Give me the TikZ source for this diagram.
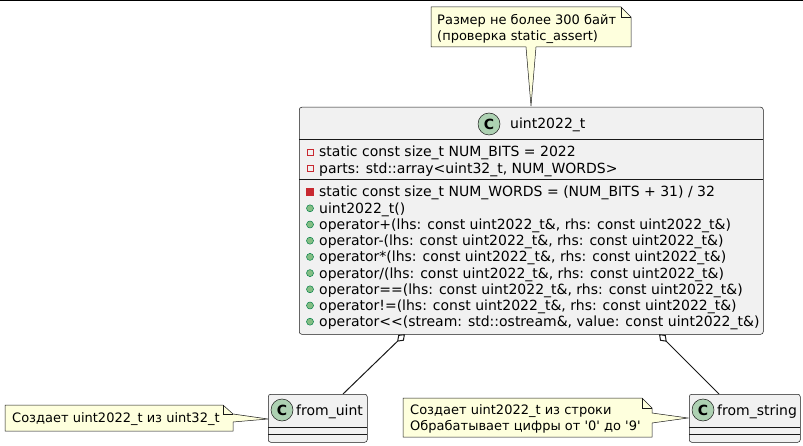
\documentclass[tikz,border=0pt]{standalone}
\usepackage{fontspec}
\setmainfont{DejaVu Sans}[Ligatures=TeXOff]
\usetikzlibrary{arrows.meta}
\definecolor{bord}{HTML}{181818}
\definecolor{clsfill}{HTML}{F1F1F1}
\definecolor{notefill}{HTML}{FEFFDD}
\definecolor{spotC}{HTML}{ADD1B2}
\definecolor{privc}{HTML}{C82930}
\definecolor{pubfill}{HTML}{84BE84}
\definecolor{pubdraw}{HTML}{038048}
\begin{document}
\begin{tikzpicture}[x=1pt,y=-1pt,
 classbox/.style={draw=bord, fill=clsfill, line width=0.5pt, rounded corners=2.5pt, inner sep=0pt, anchor=north west},
 member/.style={anchor=base west, inner sep=0pt, font=\fontsize{14}{16}\selectfont},
 ctitle/.style={anchor=base west, inner sep=0pt, font=\fontsize{14}{16}\selectfont},
 spot/.style={circle, draw=bord, fill=spotC, line width=0.5pt, minimum size=22pt, inner sep=0pt, font=\fontsize{14}{16}\selectfont\bfseries},
 privfield/.style={rectangle, draw=privc, line width=0.7pt, minimum size=6pt, inner sep=0pt},
 privmeth/.style={rectangle, draw=privc, fill=privc, minimum size=7pt, inner sep=0pt},
 pubmeth/.style={circle, draw=pubdraw, fill=pubfill, line width=0.5pt, minimum size=7pt, inner sep=0pt},
 sepline/.style={draw=bord, line width=0.5pt},
 notebody/.style={draw=bord, fill=notefill, line width=0.5pt, line join=miter},
 notefold/.style={draw=bord, line width=0.5pt},
 notetext/.style={anchor=base west, inner sep=0pt, font=\fontsize{13}{15}\selectfont},
 link/.style={draw=bord, line width=1pt, {Diamond[open,length=11pt,width=8pt]}-}
]
\useasboundingbox (0,0) rectangle (803,446);
\draw[line width=1.5pt] (0,0.75) -- (803,0.75);

% top note
\path[notebody] (431,7) -- (621,7) -- (631,17) -- (631,47) -- (536,47) -- (531,106) -- (526,47) -- (431,47) -- cycle;
\draw[notefold] (621,7) -- (621,17) -- (631,17);
\node[notetext] (n1a) at (437,24.7) {Размер не более 300 байт};
\node[notetext] (n1b) at (437,40.2) {(проверка static\_assert)};

% links
\coordinate (aL) at (405,334);
\coordinate (bL) at (343,394);
\coordinate (aR) at (659,334);
\coordinate (bR) at (719,394);
\draw[link] (aL) -- (bL);
\draw[link] (aR) -- (bR);

% class uint2022_t
\node[classbox, minimum width=464pt, minimum height=227pt] (uint) at (299,107) {};
\draw[sepline] (299,139) -- (763,139);
\draw[sepline] (299,179) -- (763,179);
\node[spot] (uintC) at (489,124) {C};
\node[ctitle] (uintT) at (510,129) {uint2022\_t};

\node[privfield] (i1) at (310,152) {};
\node[member] (m1) at (319,157) {static const size\_t NUM\_BITS = 2022};
\node[privfield] (i2) at (310,168.5) {};
\node[member] (m2) at (319,173.5) {parts: std::array<uint32\_t, NUM\_WORDS>};
\node[privmeth] (i3) at (310,192) {};
\node[member] (m3) at (319,197) {static const size\_t NUM\_WORDS = (NUM\_BITS + 31) / 32};
\node[pubmeth] (i4) at (310,208.3) {};
\node[member] (m4) at (319,213.3) {uint2022\_t()};
\node[pubmeth] (i5) at (310,224.5) {};
\node[member] (m5) at (319,229.5) {operator+(lhs: const uint2022\_t\&, rhs: const uint2022\_t\&)};
\node[pubmeth] (i6) at (310,240.7) {};
\node[member] (m6) at (319,245.7) {operator-(lhs: const uint2022\_t\&, rhs: const uint2022\_t\&)};
\node[pubmeth] (i7) at (310,256.9) {};
\node[member] (m7) at (319,261.9) {operator*(lhs: const uint2022\_t\&, rhs: const uint2022\_t\&)};
\node[pubmeth] (i8) at (310,273.1) {};
\node[member] (m8) at (319,278.1) {operator/(lhs: const uint2022\_t\&, rhs: const uint2022\_t\&)};
\node[pubmeth] (i9) at (310,289.3) {};
\node[member] (m9) at (319,294.3) {operator==(lhs: const uint2022\_t\&, rhs: const uint2022\_t\&)};
\node[pubmeth] (i10) at (310,305.5) {};
\node[member] (m10) at (319,310.5) {operator!=(lhs: const uint2022\_t\&, rhs: const uint2022\_t\&)};
\node[pubmeth] (i11) at (310,321.7) {};
\node[member] (m11) at (319,326.7) {operator<{}<(stream: std::ostream\&, value: const uint2022\_t\&)};

% note for from_uint
\path[notebody] (5,405) -- (223,405) -- (233,414) -- (268,419) -- (233,422) -- (233,431) -- (5,431) -- cycle;
\draw[notefold] (223,405) -- (223,414) -- (233,414);
\node[notetext] (n2) at (12,422.7) {Создает uint2022\_t из uint32\_t};

% class from_uint
\node[classbox, minimum width=99pt, minimum height=48pt] (fu) at (268,394) {};
\draw[sepline] (268,427) -- (367,427);
\draw[sepline] (268,434) -- (367,434);
\node[spot] (fuC) at (282,410) {C};
\node[ctitle] (fuT) at (296,415) {from\_uint};

% note for from_string
\path[notebody] (403,398) -- (642,398) -- (652,408) -- (652,413) -- (688,418) -- (652,423) -- (652,437) -- (403,437) -- cycle;
\draw[notefold] (642,398) -- (642,408) -- (652,408);
\node[notetext] (n3a) at (410,414.7) {Создает uint2022\_t из строки};
\node[notetext] (n3b) at (410,430.2) {Обрабатывает цифры от '0' до '9'};

% class from_string
\node[classbox, minimum width=111pt, minimum height=48pt] (fs) at (689,394) {};
\draw[sepline] (689,427) -- (800,427);
\draw[sepline] (689,434) -- (800,434);
\node[spot] (fsC) at (703,410) {C};
\node[ctitle] (fsT) at (717,415) {from\_string};
\end{tikzpicture}
\end{document}
